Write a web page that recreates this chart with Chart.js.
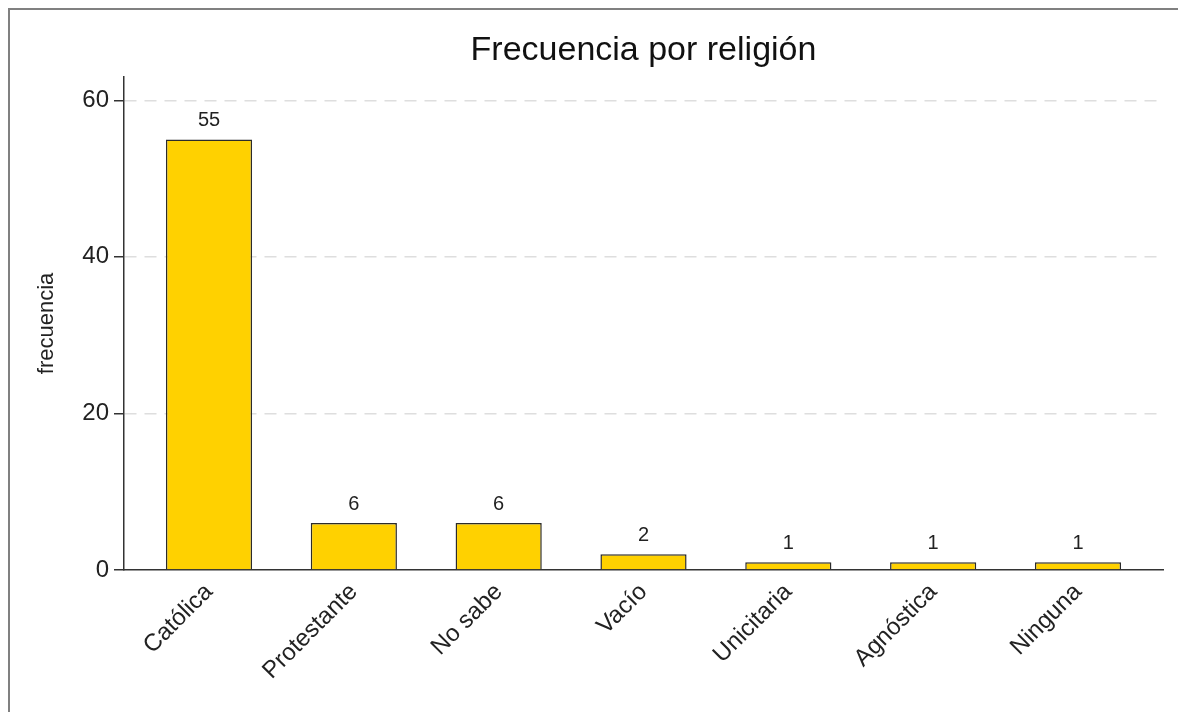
<!DOCTYPE html>
<html>
<head>
<meta charset="utf-8">
<script src="https://cdn.jsdelivr.net/npm/chart.js@4"></script>
<style>
  body { margin: 0; background: #fff; }
  #wrap { width: 1178px; height: 712px; }
</style>
</head>
<body>
<div id="wrap"><canvas id="myChart" width="1178" height="712"></canvas></div>
<script>
// religion categories and counts
var categories = ['Católica', 'Protestante', 'No sabe', 'Vacío', 'Unicitaria', 'Agnóstica', 'Ninguna']
var counts = [55, 6, 6, 2, 1, 1, 1]
var yTicks = [0, 20, 40, 60]

var fontFam = '"Liberation Sans", Arial, Helvetica, sans-serif'

// draws the count above each bar
const valueLabels = {
  id: 'valueLabels',
  afterDatasetsDraw(chart) {
    const ctx = chart.ctx
    const meta = chart.getDatasetMeta(0)
    ctx.save()
    ctx.font = '20px ' + fontFam
    ctx.fillStyle = '#222'
    ctx.textAlign = 'center'
    ctx.textBaseline = 'bottom'
    meta.data.forEach((bar, i) => {
      ctx.fillText(String(counts[i]), bar.x, bar.y - 9)
    })
    ctx.restore()
  }
}

// grey frame around the graph
const frame = {
  id: 'frame',
  beforeDraw(chart) {
    const ctx = chart.ctx
    ctx.save()
    ctx.strokeStyle = '#808080'
    ctx.lineWidth = 2
    ctx.strokeRect(9, 9, 3000, 3000)
    ctx.restore()
  }
}

const ctx = document.getElementById('myChart');
new Chart(ctx, {
  type: 'bar',
  data: {
    datasets: [{
      data: counts.map((v, i) => ({ x: i, y: v })),
      backgroundColor: '#ffd100',
      borderColor: '#2b2b2b',
      borderWidth: 1.5,
      barPercentage: 0.595,
      categoryPercentage: 1
    }]
  },
  options: {
    responsive: false,
    animation: false,
    layout: { padding: { top: 0, right: 15, bottom: 0, left: 0 } },
    plugins: {
      legend: { display: false },
      tooltip: { enabled: false },
      title: {
        display: true,
        text: 'Frecuencia por religión',
        fullSize: false,
        color: '#111',
        font: { family: fontFam, size: 34, weight: 'normal' },
        padding: { top: 30, bottom: 6 }
      }
    },
    scales: {
      x: {
        type: 'linear',
        offset: false,
        min: -0.587,
        max: 6.587,
        afterBuildTicks: (scale) => {
          scale.ticks = categories.map((c, i) => ({ value: i }))
        },
        afterFit: (scale) => { scale.height = 142 },
        grid: { display: false, offset: false },
        border: { display: true, color: '#333', width: 1.5 },
        ticks: {
          autoSkip: false,
          maxRotation: 45,
          minRotation: 45,
          padding: 0,
          color: '#222',
          font: { family: fontFam, size: 24 },
          callback: (v) => categories[v]
        }
      },
      y: {
        min: 0,
        max: 63,
        afterBuildTicks: (scale) => {
          scale.ticks = yTicks.map(v => ({ value: v }))
        },
        afterFit: (scale) => { scale.width = 124 },
        grid: {
          color: (c) => (c.tick && c.tick.value === 0) ? 'rgba(0,0,0,0)' : '#dedede',
          lineWidth: 1.5,
          tickColor: '#333',
          tickLength: 10,
          tickWidth: 1.5,
          tickBorderDash: []
        },
        border: { display: true, color: '#333', width: 1.5, dash: [12, 8] },
        ticks: {
          padding: 5,
          color: '#222',
          font: { family: fontFam, size: 24 }
        },
        title: {
          display: true,
          text: 'frecuencia',
          color: '#222',
          font: { family: fontFam, size: 22 },
          padding: { top: 34, bottom: 0 }
        }
      }
    }
  },
  plugins: [frame, valueLabels]
});
</script>
</body>
</html>
